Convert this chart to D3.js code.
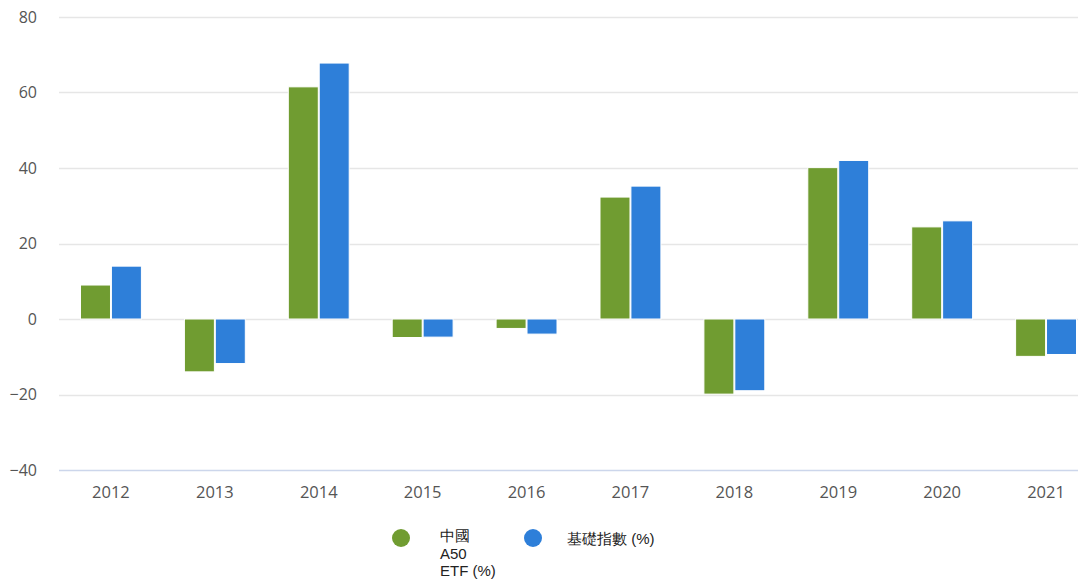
<!DOCTYPE html>
<html><head><meta charset="utf-8">
<script src="https://cdn.jsdelivr.net/npm/d3@7"></script>
<style>body{margin:0;background:#fff;overflow:hidden}svg{display:block}</style>
</head><body><svg id="c" width="1078" height="580"></svg>
<script>
const categories = ["2012","2013","2014","2015","2016","2017","2018","2019","2020","2021"];
const etfValues = [9.0, -14.0, 61.5, -4.9, -2.5, 32.3, -19.9, 40.1, 24.4, -9.9];
const indexValues = [14.0, -11.8, 67.8, -4.8, -4.0, 35.2, -19.0, 42.0, 26.0, -9.4];
const yTicks = [-40, -20, 0, 20, 40, 60, 80];
const seriesNames = ["中國 A50 ETF (%)", "基礎指數 (%)"];
const colors = ["#709c31", "#2e7fd9"];

const svg = d3.select("#c");
const x = d3.scaleBand().domain(categories).range([59, 1098]).paddingInner(0).paddingOuter(0);
const y = d3.scaleLinear().domain([-40, 80]).range([470, 17]);
const x1 = d3.scaleBand().domain([0,1]).range([21.5, x.bandwidth()-21.5]).paddingInner(0.03);

// grid
svg.append("g").selectAll("line").data(yTicks).join("line")
  .attr("x1", 59).attr("x2", 1078)
  .attr("y1", d => Math.round(y(d))+0.5).attr("y2", d => Math.round(y(d))+0.5)
  .attr("stroke", d => d === -40 ? "#ccd6eb" : "#e6e6e6").attr("stroke-width", 1.5);

// y labels
svg.append("g").selectAll("text").data(yTicks).join("text")
  .attr("x", 37).attr("y", d => y(d)+5.5).attr("text-anchor", "end")
  .attr("font-family", "Open Sans, sans-serif").attr("font-size", 16).attr("fill", "#555")
  .text(d => d < 0 ? "\u2212" + Math.abs(d) : d);

// x labels
svg.append("g").selectAll("text").data(categories).join("text")
  .attr("x", d => x(d) + x.bandwidth()/2).attr("y", 498).attr("text-anchor", "middle")
  .attr("font-family", "Open Sans, sans-serif").attr("font-size", 16.5).attr("fill", "#555")
  .text(d => d);

const series = [etfValues, indexValues];
series.forEach((vals, si) => {
  svg.append("g").selectAll("rect").data(vals).join("rect")
    .attr("x", (d,i) => x(categories[i]) + x1(si))
    .attr("width", x1.bandwidth())
    .attr("y", d => y(Math.max(0,d)))
    .attr("height", d => Math.abs(y(d) - y(0)))
    .attr("fill", colors[si]).attr("stroke", "#fff").attr("stroke-width", 1);
});

// legend
const lg = svg.append("g").attr("font-family", "Liberation Sans, Arial, sans-serif").attr("font-size", 15).attr("fill", "#222");
lg.append("circle").attr("cx", 401).attr("cy", 538).attr("r", 9).attr("fill", colors[0]);
const t1 = lg.append("text").attr("x", 440).attr("y", 541);
["中國","A50","ETF (%)"].forEach((s,i) => t1.append("tspan").attr("x", 440).attr("dy", i===0?0:17.5).text(s));
lg.append("circle").attr("cx", 533).attr("cy", 538).attr("r", 9).attr("fill", colors[1]);
lg.append("text").attr("x", 567).attr("y", 544).text(seriesNames[1]);
</script></body></html>
